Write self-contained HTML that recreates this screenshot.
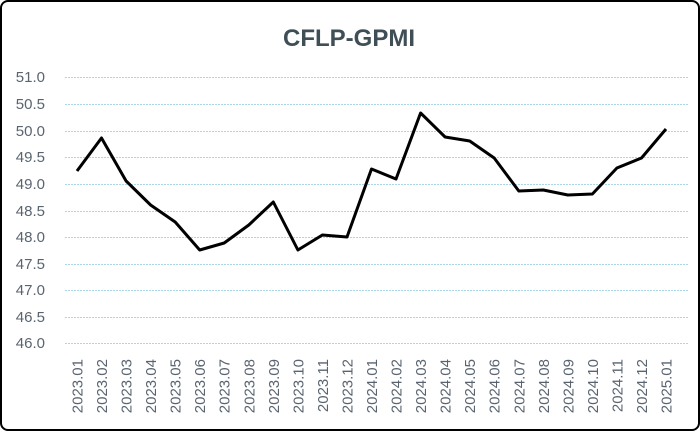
<!DOCTYPE html><html><head><style>
body{margin:0;background:#fff}
.f{position:absolute;left:0;top:0;width:696px;height:427px;border:2px solid #000;border-radius:8px;background:#fff;overflow:hidden}
</style></head><body><div class="f">
<svg width="700" height="431" style="position:absolute;left:-2px;top:-2px" font-family="Liberation Sans, sans-serif">
<text x="349" y="46" text-anchor="middle" font-size="24" font-weight="bold" fill="#3f4f55">CFLP-GPMI</text>
<g stroke="#a8d8e8" stroke-width="1" stroke-dasharray="2,1">
<line x1="65" x2="688" y1="77.5" y2="77.5"/><line x1="65" x2="688" y1="104.5" y2="104.5"/><line x1="65" x2="688" y1="131.5" y2="131.5"/><line x1="65" x2="688" y1="157.5" y2="157.5"/><line x1="65" x2="688" y1="184.5" y2="184.5"/><line x1="65" x2="688" y1="211.5" y2="211.5"/><line x1="65" x2="688" y1="237.5" y2="237.5"/><line x1="65" x2="688" y1="264.5" y2="264.5"/><line x1="65" x2="688" y1="290.5" y2="290.5"/><line x1="65" x2="688" y1="317.5" y2="317.5"/><line x1="65" x2="688" y1="343.5" y2="343.5"/>
</g>
<g font-size="15" fill="#5a6470" text-anchor="end">
<text x="45" y="82">51.0</text><text x="45" y="109">50.5</text><text x="45" y="136">50.0</text><text x="45" y="162">49.5</text><text x="45" y="189">49.0</text><text x="45" y="216">48.5</text><text x="45" y="242">48.0</text><text x="45" y="269">47.5</text><text x="45" y="295">47.0</text><text x="45" y="322">46.5</text><text x="45" y="348">46.0</text>
</g>
<g font-size="15" fill="#5a6470" text-anchor="end">
<text transform="translate(82.5,359) rotate(-90)">2023.01</text>
<text transform="translate(107,359) rotate(-90)">2023.02</text>
<text transform="translate(131.6,359) rotate(-90)">2023.03</text>
<text transform="translate(156.1,359) rotate(-90)">2023.04</text>
<text transform="translate(180.7,359) rotate(-90)">2023.05</text>
<text transform="translate(205.2,359) rotate(-90)">2023.06</text>
<text transform="translate(229.7,359) rotate(-90)">2023.07</text>
<text transform="translate(254.3,359) rotate(-90)">2023.08</text>
<text transform="translate(278.8,359) rotate(-90)">2023.09</text>
<text transform="translate(303.4,359) rotate(-90)">2023.10</text>
<text transform="translate(327.9,359) rotate(-90)">2023.11</text>
<text transform="translate(352.5,359) rotate(-90)">2023.12</text>
<text transform="translate(377,359) rotate(-90)">2024.01</text>
<text transform="translate(401.5,359) rotate(-90)">2024.02</text>
<text transform="translate(426.1,359) rotate(-90)">2024.03</text>
<text transform="translate(450.6,359) rotate(-90)">2024.04</text>
<text transform="translate(475.2,359) rotate(-90)">2024.05</text>
<text transform="translate(499.7,359) rotate(-90)">2024.06</text>
<text transform="translate(524.3,359) rotate(-90)">2024.07</text>
<text transform="translate(548.8,359) rotate(-90)">2024.08</text>
<text transform="translate(573.3,359) rotate(-90)">2024.09</text>
<text transform="translate(597.9,359) rotate(-90)">2024.10</text>
<text transform="translate(622.4,359) rotate(-90)">2024.11</text>
<text transform="translate(647,359) rotate(-90)">2024.12</text>
<text transform="translate(671.5,359) rotate(-90)">2025.01</text>
</g>
<polyline fill="none" stroke="#000" stroke-width="3" stroke-linejoin="round" points="77,171 101.5,138 126.1,181 150.6,205 175.2,222 199.7,250 224.2,243 248.8,225 273.3,202 297.9,250 322.4,235 347,237 371.5,169 396,179 420.6,113 445.1,137 469.7,141 494.2,158 518.8,191 543.3,190 567.8,195 592.4,194 616.9,168 641.5,158 666,129"/>
</svg></div></body></html>
